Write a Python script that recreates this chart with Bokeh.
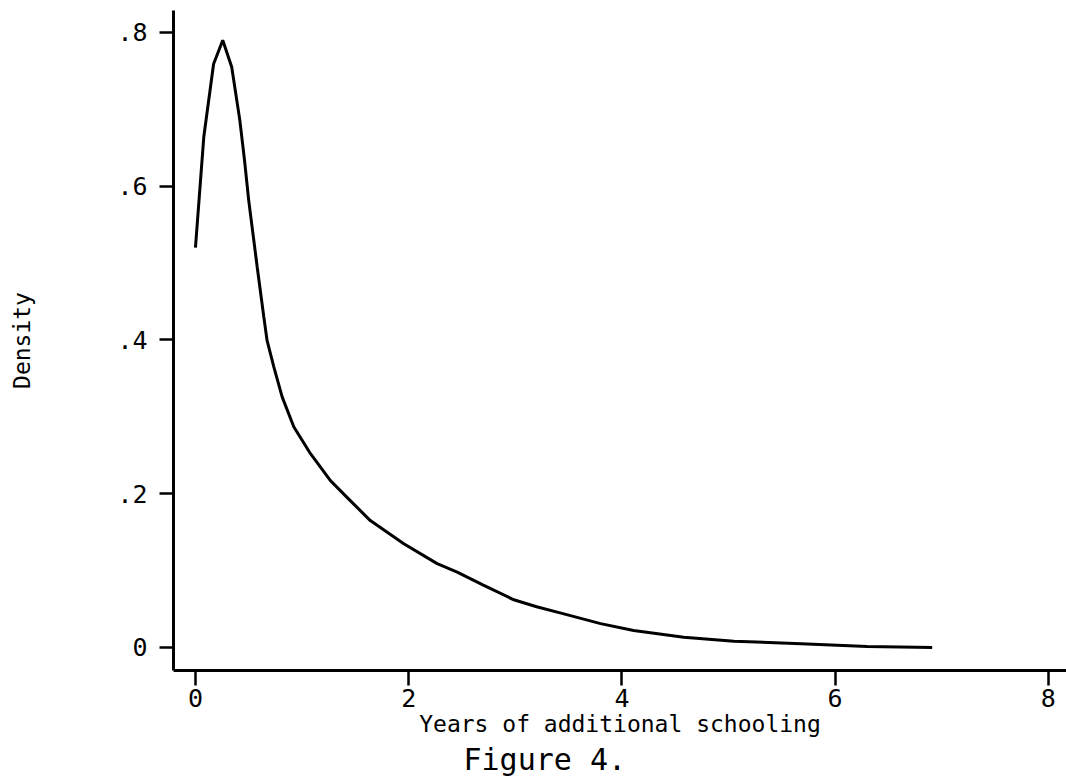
from bokeh.plotting import figure
from bokeh.models import FixedTicker, Range1d, Title
from bokeh.embed import file_html
from bokeh.resources import INLINE

# Kernel density estimate of years of additional schooling
x_years = [0.0, 0.078, 0.17, 0.256, 0.34, 0.416, 0.46, 0.50, 0.579, 0.641,
           0.672, 0.735, 0.813, 0.922, 1.079, 1.266, 1.438, 1.64, 1.954,
           2.267, 2.455, 2.70, 2.986, 3.2, 3.42, 3.80, 4.11, 4.58, 5.05,
           5.68, 6.30, 6.91]
density = [0.52, 0.664, 0.759, 0.790, 0.755, 0.686, 0.634, 0.581, 0.495,
           0.430, 0.399, 0.365, 0.326, 0.287, 0.252, 0.217, 0.193, 0.165,
           0.135, 0.109, 0.098, 0.081, 0.062, 0.053, 0.045, 0.031, 0.022,
           0.0134, 0.0082, 0.0048, 0.0013, 0.0]

x_ticks = [0, 2, 4, 6, 8]
y_ticks = [0, 0.2, 0.4, 0.6, 0.8]
y_tick_labels = ["0", ".2", ".4", ".6", ".8"]

FONT = "DejaVu Sans Mono"

p = figure(width=1066, height=782, output_backend="svg", toolbar_location=None,
           x_range=Range1d(-0.206, 8.17), y_range=Range1d(-0.030, 0.8286),
           min_border_left=173, min_border_right=0, min_border_top=10,
           min_border_bottom=112)
p.outline_line_color = None
p.background_fill_color = "white"
p.border_fill_color = "white"
p.xgrid.visible = False
p.ygrid.visible = False

p.line(x_years, density, line_color="black", line_width=3)

# x axis
xa = p.xaxis[0]
xa.ticker = FixedTicker(ticks=x_ticks)
xa.minor_tick_line_color = None
xa.major_tick_out = 15
xa.major_tick_in = 0
xa.major_tick_line_width = 2.5
xa.axis_line_width = 3
xa.major_label_standoff = 3
xa.major_label_text_font = FONT
xa.major_label_text_font_size = "25px"
xa.major_label_text_color = "black"
xa.axis_label = "Years of additional schooling"
xa.axis_label_text_font = FONT
xa.axis_label_text_font_size = "23px"
xa.axis_label_text_font_style = "normal"
xa.axis_label_text_color = "black"
xa.axis_label_standoff = 1

# y axis
ya = p.yaxis[0]
ya.ticker = FixedTicker(ticks=y_ticks)
ya.major_label_overrides = {t: s for t, s in zip(y_ticks, y_tick_labels)}
ya.minor_tick_line_color = None
ya.major_tick_out = 14
ya.major_tick_in = 0
ya.major_tick_line_width = 2.5
ya.axis_line_width = 3
ya.major_label_standoff = 12
ya.major_label_orientation = "horizontal"
ya.major_label_text_font = FONT
ya.major_label_text_font_size = "25px"
ya.major_label_text_color = "black"
ya.axis_label = "Density"
ya.axis_label_text_font = FONT
ya.axis_label_text_font_size = "23px"
ya.axis_label_text_font_style = "normal"
ya.axis_label_text_color = "black"
ya.axis_label_standoff = 79

cap = Title(text="Figure 4.", align="left", offset=290,
            text_font=FONT, text_font_size="30px", text_font_style="normal",
            text_color="black", standoff=0)
p.add_layout(cap, "below")

open("out.html", "w").write(file_html(p, INLINE))
